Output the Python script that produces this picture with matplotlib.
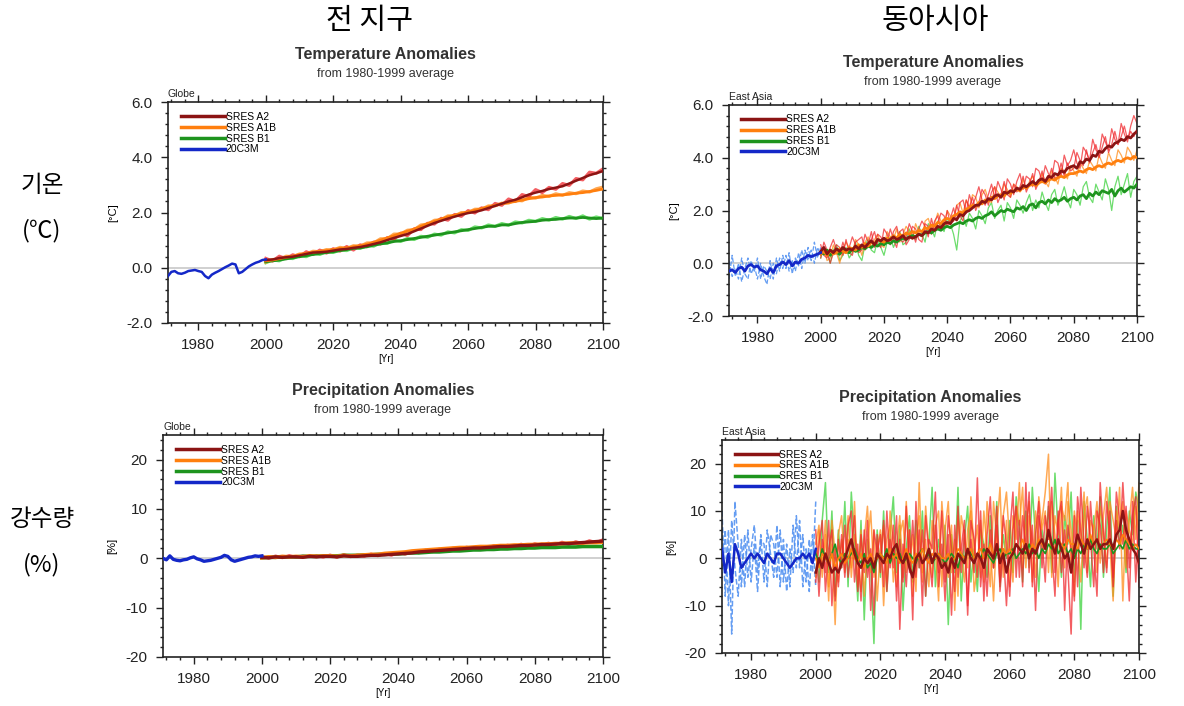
import matplotlib
matplotlib.use("Agg")
import matplotlib.pyplot as plt
from matplotlib.lines import Line2D
from matplotlib.ticker import MultipleLocator
import numpy as np

plt.rcParams['font.family'] = ['Liberation Sans', 'DejaVu Sans']

# ---------------- data ----------------
hist_years = np.arange(1971, 2001)
scen_years = np.arange(2000, 2101)        # yearly (East Asia)
scen_years2 = np.arange(2000, 2101, 2)    # every 2 years (Globe)

scenarios = ["SRES A2", "SRES A1B", "SRES B1", "20C3M"]

# Globe temperature [C]
gl_t_hist = [-0.30, -0.15, -0.12, -0.20, -0.22, -0.18, -0.12, -0.10, -0.08, -0.12,
             -0.15, -0.30, -0.38, -0.25, -0.18, -0.12, -0.05, 0.02, 0.08, 0.15,
             0.12, -0.20, -0.15, -0.05, 0.05, 0.12, 0.18, 0.22, 0.28, 0.30]
gl_t_a2 = [0.28, 0.30, 0.35, 0.38, 0.40, 0.45, 0.50, 0.55, 0.56, 0.58,
           0.62, 0.66, 0.68, 0.72, 0.75, 0.80, 0.86, 0.92, 1.00, 1.08,
           1.15, 1.22, 1.32, 1.42, 1.52, 1.62, 1.70, 1.78, 1.85, 1.92,
           1.98, 2.02, 2.08, 2.16, 2.24, 2.32, 2.40, 2.46, 2.55, 2.65,
           2.72, 2.78, 2.85, 2.90, 2.95, 3.05, 3.15, 3.25, 3.35, 3.42, 3.50]
gl_t_a1b = [0.25, 0.28, 0.33, 0.38, 0.42, 0.48, 0.52, 0.56, 0.60, 0.62,
            0.66, 0.70, 0.72, 0.76, 0.80, 0.85, 0.92, 1.00, 1.08, 1.16,
            1.25, 1.32, 1.40, 1.50, 1.60, 1.68, 1.76, 1.84, 1.90, 1.96,
            2.02, 2.08, 2.14, 2.20, 2.26, 2.32, 2.36, 2.40, 2.45, 2.50,
            2.54, 2.56, 2.60, 2.62, 2.64, 2.66, 2.70, 2.72, 2.76, 2.80, 2.85]
gl_t_b1 = [0.22, 0.25, 0.28, 0.32, 0.36, 0.40, 0.44, 0.48, 0.52, 0.55,
           0.58, 0.62, 0.66, 0.70, 0.72, 0.76, 0.82, 0.86, 0.90, 0.95,
           0.98, 1.02, 1.06, 1.10, 1.14, 1.18, 1.22, 1.26, 1.30, 1.34,
           1.38, 1.42, 1.46, 1.50, 1.50, 1.55, 1.55, 1.60, 1.64, 1.66,
           1.68, 1.72, 1.74, 1.75, 1.78, 1.80, 1.80, 1.82, 1.80, 1.78, 1.80]
gl_t_a2_m = [0.34, 0.24, 0.42, 0.33, 0.47, 0.40, 0.58, 0.48, 0.64, 0.53,
             0.69, 0.60, 0.77, 0.64, 0.83, 0.76, 0.93, 0.86, 1.09, 1.03,
             1.25, 1.16, 1.41, 1.38, 1.61, 1.58, 1.79, 1.72, 1.93, 1.86,
             2.07, 1.98, 2.17, 2.10, 2.33, 2.26, 2.49, 2.40, 2.65, 2.58,
             2.83, 2.72, 2.91, 2.84, 3.05, 2.98, 3.23, 3.18, 3.46, 3.42, 3.58]
gl_t_a1b_m = [0.20, 0.30, 0.30, 0.42, 0.40, 0.50, 0.50, 0.60, 0.58, 0.66,
              0.64, 0.74, 0.70, 0.80, 0.78, 0.90, 0.90, 1.05, 1.05, 1.22,
              1.22, 1.36, 1.38, 1.55, 1.58, 1.72, 1.74, 1.88, 1.88, 2.00,
              2.00, 2.12, 2.12, 2.24, 2.24, 2.34, 2.34, 2.45, 2.42, 2.55,
              2.52, 2.62, 2.58, 2.68, 2.62, 2.72, 2.68, 2.78, 2.74, 2.86, 2.92]
gl_t_b1_m = [0.18, 0.28, 0.25, 0.36, 0.33, 0.44, 0.40, 0.52, 0.48, 0.58,
             0.55, 0.64, 0.62, 0.72, 0.70, 0.80, 0.78, 0.90, 0.88, 1.00,
             0.95, 1.06, 1.02, 1.14, 1.10, 1.22, 1.18, 1.30, 1.26, 1.38,
             1.35, 1.48, 1.44, 1.55, 1.50, 1.60, 1.54, 1.66, 1.62, 1.72,
             1.68, 1.78, 1.72, 1.82, 1.76, 1.86, 1.78, 1.88, 1.76, 1.84, 1.78]

# Globe precipitation [%]
gl_p_hist = [0.0, -0.3, 0.5, -0.2, -0.4, -0.5, -0.3, -0.2, 0.1, 0.3,
             -0.1, -0.3, -0.6, -0.5, -0.4, -0.2, 0.0, 0.2, 0.6, 0.4,
             -0.3, -0.6, -0.4, -0.2, 0.0, 0.2, 0.3, 0.5, 0.4, 0.5]
gl_p_a2 = [0.2, 0.1, 0.3, 0.2, 0.3, 0.3, 0.2, 0.4, 0.3, 0.4,
           0.4, 0.3, 0.5, 0.4, 0.4, 0.5, 0.6, 0.6, 0.7, 0.8,
           0.9, 1.0, 1.1, 1.3, 1.4, 1.5, 1.6, 1.7, 1.8, 1.9,
           2.0, 2.1, 2.1, 2.2, 2.3, 2.4, 2.4, 2.5, 2.6, 2.6,
           2.7, 2.8, 2.8, 2.9, 3.0, 3.0, 3.1, 3.2, 3.3, 3.4, 3.5]
gl_p_a1b = [0.1, 0.3, 0.2, 0.4, 0.3, 0.4, 0.3, 0.5, 0.4, 0.5,
            0.5, 0.4, 0.6, 0.5, 0.6, 0.7, 0.8, 0.8, 1.0, 1.1,
            1.2, 1.3, 1.5, 1.6, 1.7, 1.8, 1.9, 2.0, 2.1, 2.2,
            2.2, 2.3, 2.4, 2.4, 2.5, 2.6, 2.6, 2.7, 2.7, 2.8,
            2.8, 2.9, 2.9, 3.0, 3.0, 3.1, 3.1, 3.1, 3.2, 3.2, 3.3]
gl_p_b1 = [0.1, 0.2, 0.2, 0.3, 0.3, 0.3, 0.4, 0.4, 0.4, 0.5,
           0.5, 0.5, 0.6, 0.6, 0.6, 0.7, 0.7, 0.8, 0.8, 0.9,
           0.9, 1.0, 1.1, 1.1, 1.2, 1.3, 1.3, 1.4, 1.5, 1.5,
           1.6, 1.7, 1.7, 1.8, 1.8, 1.9, 1.9, 2.0, 2.0, 2.1,
           2.1, 2.2, 2.2, 2.2, 2.3, 2.3, 2.3, 2.4, 2.4, 2.4, 2.4]
gl_p_a2_m = [0.4, 0.0, 0.5, 0.1, 0.6, 0.2, 0.5, 0.3, 0.6, 0.2,
             0.7, 0.2, 0.8, 0.3, 0.7, 0.4, 0.9, 0.5, 1.0, 0.6,
             1.2, 0.8, 1.4, 1.1, 1.7, 1.3, 1.9, 1.5, 2.1, 1.7,
             2.3, 1.9, 2.4, 2.0, 2.6, 2.2, 2.7, 2.3, 2.9, 2.4,
             3.0, 2.6, 3.1, 2.7, 3.3, 2.8, 3.4, 3.0, 3.6, 3.2, 3.8]

# East Asia temperature [C]
ea_t_hist = [-0.30, -0.25, -0.35, -0.20, -0.15, -0.30, -0.10, -0.05, -0.15, -0.10,
             -0.25, -0.30, -0.40, -0.20, -0.35, -0.10, -0.05, 0.05, -0.05, 0.10,
             -0.10, 0.05, 0.00, 0.15, 0.20, 0.30, 0.25, 0.30, 0.35, 0.40]
ea_t_hist_m1 = [-0.6, 0.3, -0.5, 0.0, -0.7, -0.2, 0.2, -0.4, -0.1, -0.6,
                0.0, -0.5, -0.8, 0.1, -0.6, 0.2, -0.3, 0.3, -0.2, 0.4,
                -0.4, 0.2, -0.1, 0.5, 0.0, 0.6, 0.1, 0.8, 0.2, 0.6]
ea_t_hist_m2 = [0.1, -0.5, -0.2, -0.6, 0.2, -0.4, -0.6, 0.1, -0.3, 0.2,
                -0.6, -0.1, -0.3, -0.6, 0.0, -0.4, 0.2, -0.2, 0.3, -0.3,
                0.1, -0.3, 0.4, -0.2, 0.5, 0.1, 0.5, 0.0, 0.6, 0.3]
ea_t_a2 = [0.45, 0.60, 0.35, 0.50, 0.40, 0.55, 0.45, 0.60, 0.50, 0.55,
           0.50, 0.65, 0.55, 0.70, 0.60, 0.75, 0.85, 0.70, 0.90, 0.85,
           0.95, 0.85, 0.90, 1.00, 0.90, 0.95, 1.05, 0.90, 1.00, 0.95,
           1.00, 1.10, 1.05, 1.20, 1.15, 1.30, 1.25, 1.40, 1.35, 1.50,
           1.55, 1.50, 1.70, 1.65, 1.85, 1.80, 1.95, 2.00, 2.10, 2.20,
           2.20, 2.35, 2.30, 2.45, 2.40, 2.55, 2.60, 2.50, 2.70, 2.65,
           2.75, 2.70, 2.85, 2.80, 2.95, 2.90, 3.00, 3.10, 3.00, 3.15,
           3.20, 3.10, 3.30, 3.25, 3.40, 3.35, 3.50, 3.45, 3.60, 3.65,
           3.70, 3.60, 3.85, 3.80, 3.95, 3.90, 4.10, 4.05, 4.25, 4.20,
           4.35, 4.45, 4.40, 4.55, 4.60, 4.70, 4.65, 4.80, 4.75, 4.90, 5.00]
ea_t_a1b = [0.35, 0.45, 0.30, 0.50, 0.35, 0.40, 0.55, 0.45, 0.40, 0.60,
            0.55, 0.50, 0.70, 0.60, 0.75, 0.65, 0.80, 0.75, 0.90, 0.85,
            0.80, 0.95, 0.90, 1.05, 0.95, 1.10, 1.00, 1.15, 1.10, 1.20,
            1.15, 1.25, 1.20, 1.35, 1.30, 1.45, 1.40, 1.55, 1.50, 1.65,
            1.70, 1.65, 1.80, 1.85, 1.95, 1.90, 2.05, 2.10, 2.20, 2.15,
            2.30, 2.25, 2.40, 2.35, 2.50, 2.45, 2.55, 2.60, 2.55, 2.70,
            2.65, 2.75, 2.80, 2.75, 2.90, 2.85, 2.95, 3.00, 2.95, 3.05,
            3.10, 3.05, 3.15, 3.20, 3.15, 3.25, 3.30, 3.25, 3.35, 3.40,
            3.40, 3.45, 3.50, 3.45, 3.55, 3.60, 3.55, 3.65, 3.70, 3.65,
            3.75, 3.80, 3.75, 3.85, 3.90, 3.85, 3.95, 4.00, 3.95, 4.05, 4.00]
ea_t_b1 = [0.40, 0.35, 0.50, 0.30, 0.45, 0.40, 0.35, 0.50, 0.45, 0.40,
           0.55, 0.45, 0.50, 0.60, 0.55, 0.65, 0.60, 0.70, 0.65, 0.75,
           0.70, 0.80, 0.75, 0.85, 0.80, 0.90, 0.95, 0.90, 1.00, 1.05,
           1.00, 1.10, 1.05, 1.15, 1.20, 1.15, 1.25, 1.30, 1.25, 1.35,
           1.40, 1.35, 1.45, 1.50, 1.55, 1.50, 1.60, 1.65, 1.60, 1.70,
           1.75, 1.70, 1.80, 1.85, 1.95, 1.80, 1.90, 2.00, 1.95, 2.05,
           2.00, 1.95, 2.10, 2.05, 2.15, 2.00, 2.20, 2.25, 2.10, 2.30,
           2.35, 2.25, 2.40, 2.30, 2.45, 2.35, 2.40, 2.50, 2.35, 2.45,
           2.50, 2.40, 2.55, 2.60, 2.45, 2.65, 2.55, 2.70, 2.60, 2.75,
           2.70, 2.65, 2.80, 2.55, 2.75, 2.85, 2.70, 2.80, 2.90, 2.85, 3.00]
ea_t_a2_m1 = [0.7, 0.3, 0.2, 0.6, 0.9, 0.5, 0.3, 0.8, 0.4, 0.6,
              1.0, 0.7, 0.4, 0.5, 1.1, 0.8, 0.9, 1.2, 0.7, 0.6,
              1.3, 1.1, 0.7, 1.2, 1.4, 0.9, 0.8, 1.0, 1.5, 1.2,
              0.8, 1.3, 1.6, 1.4, 1.0, 1.7, 1.2, 1.5, 1.9, 1.8,
              1.4, 1.7, 2.1, 1.6, 2.3, 2.4, 1.9, 2.6, 2.2, 2.5,
              2.9, 2.4, 2.2, 2.6, 3.0, 2.5, 3.1, 2.8, 2.4, 3.2,
              3.0, 2.6, 3.1, 3.4, 2.8, 3.3, 3.2, 2.9, 3.6, 3.5,
              3.1, 3.7, 3.4, 3.2, 3.9, 3.8, 3.3, 4.1, 3.7, 3.9,
              4.3, 3.8, 3.6, 4.4, 4.2, 3.9, 4.7, 4.3, 4.1, 4.9,
              4.6, 4.3, 5.1, 4.7, 4.5, 5.3, 4.9, 4.6, 5.2, 5.6, 5.3]
ea_t_a2_m2 = [0.2, 0.8, 0.5, 0.0, 0.4, 0.7, 0.6, 0.3, 0.9, 0.4,
              0.3, 0.8, 0.9, 1.0, 0.5, 0.7, 1.2, 0.6, 1.1, 1.0,
              0.7, 0.8, 1.3, 0.9, 0.6, 1.2, 1.3, 0.7, 0.9, 1.4,
              1.3, 0.9, 0.8, 1.5, 1.4, 1.1, 1.6, 1.8, 1.3, 1.4,
              2.0, 1.5, 1.6, 2.2, 1.8, 1.6, 2.4, 2.1, 2.5, 2.0,
              2.3, 2.8, 2.6, 2.2, 2.7, 2.9, 2.3, 2.6, 3.1, 2.6,
              2.5, 3.0, 2.7, 2.9, 3.3, 2.7, 3.0, 3.4, 2.8, 3.1,
              3.5, 3.0, 3.2, 3.6, 3.2, 3.3, 3.8, 3.3, 3.8, 3.5,
              3.6, 4.2, 3.9, 3.7, 4.3, 3.8, 4.2, 4.5, 4.0, 4.4,
              4.8, 4.2, 4.5, 5.0, 4.5, 4.8, 5.2, 4.7, 5.0, 4.8, 5.1]
ea_t_a1b_m1 = [0.3, 0.6, 0.1, 0.2, 0.7, 0.4, 0.0, 0.5, 0.8, 0.6,
               0.4, 0.9, 0.7, 0.3, 0.8, 1.0, 0.6, 0.9, 1.1, 0.7,
               0.6, 1.2, 1.0, 0.9, 1.3, 0.8, 1.1, 1.4, 1.2, 0.9,
               1.5, 1.2, 1.0, 1.6, 1.7, 1.3, 1.5, 1.9, 1.6, 1.4,
               2.0, 1.8, 1.6, 2.2, 2.3, 1.9, 2.4, 2.1, 2.6, 2.5,
               2.1, 2.6, 2.8, 2.4, 2.3, 2.9, 2.7, 2.5, 3.0, 2.8,
               2.5, 3.0, 2.9, 2.7, 3.2, 2.8, 3.1, 3.3, 2.9, 3.0,
               3.4, 3.1, 2.9, 3.5, 3.3, 3.0, 3.6, 3.5, 3.2, 3.7,
               3.5, 3.3, 3.8, 3.6, 3.4, 3.9, 3.7, 3.5, 4.1, 3.8,
               3.6, 4.2, 3.9, 3.7, 4.3, 4.1, 3.8, 4.4, 4.2, 3.9, 4.3]
ea_t_b1_m1 = [0.2, 0.6, 0.4, 0.0, 0.5, 0.7, 0.1, 0.3, 0.6, 0.2,
              0.4, 0.8, 0.3, 0.1, 0.7, 0.9, 0.5, 0.4, 0.9, 0.6,
              0.3, 0.8, 1.0, 0.6, 0.9, 1.2, 0.7, 0.8, 1.3, 1.0,
              0.9, 1.4, 1.1, 0.8, 1.5, 1.3, 1.0, 1.6, 1.4, 1.2,
              1.7, 1.5, 1.1, 0.5, 1.6, 1.8, 1.4, 1.9, 1.7, 1.3,
              2.0, 1.8, 1.5, 2.1, 2.3, 1.7, 2.0, 2.2, 1.6, 2.3,
              2.1, 1.7, 2.4, 2.2, 1.9, 2.3, 2.6, 2.0, 2.4, 2.1,
              2.7, 2.3, 2.0, 2.6, 2.8, 2.2, 2.5, 2.9, 2.4, 2.1,
              2.8, 2.6, 2.2, 2.9, 3.1, 2.5, 2.3, 3.0, 2.7, 2.4,
              3.2, 2.8, 2.0, 2.9, 3.3, 2.6, 3.0, 3.4, 2.5, 3.1, 3.3]

# East Asia precipitation [%]
ea_p_hist = [2, -3, 1, -5, 3, 1, -2, -1, 0, 1,
             0, 1, 0, -1, 1, 0, -1, 1, 1, 0,
             -1, -2, -1, 0, 0, 1, 0, 1, -1, 2]
ea_p_hist_m1 = [10, -8, 6, -16, 12, 3, -6, 5, -4, 2,
                7, -3, 5, -5, 6, 1, -4, 7, -6, 4,
                -7, 2, -3, 9, -2, 5, -5, 4, -3, 12]
ea_p_hist_m2 = [-4, 6, -10, 8, -2, -8, 4, -6, 6, -5,
                3, -7, 4, 3, -6, 5, 3, -4, 6, -5,
                3, -6, 7, -2, 8, -6, 2, -7, 5, -6]
ea_p_a2 = [-3, 0, -2, 1, -1, -3, -2, -3, -1, 0,
           2, 4, 1, -1, -2, 0, -1, 0, -2, 1,
           0, -1, 1, 0, 2, 3, 0, -1, 1, -2,
           -4, 0, 1, -1, 0, 2, -1, 1, 0, -2,
           -1, -3, 0, -2, 1, 0, -1, 2, 0, -1,
           1, 0, -2, 2, 1, 0, 3, -1, 1, -3,
           0, 1, 3, 2, 1, 3, 0, 2, 1, 3,
           4, 2, 6, 3, 1, 4, 2, 0, 1, -3,
           2, 5, 3, 1, 4, 2, 3, 4, 2, 3,
           3, 4, 2, 5, 6, 10, 6, 4, 2, 1, -1]
ea_p_a1b = [0, -2, 1, 0, -1, 1, -2, 0, 1, -1,
            0, 2, 0, -1, 1, -2, 0, 1, -1, 0,
            1, 0, -1, 2, 0, 1, -1, 0, 2, 0,
            -1, 1, 0, 2, 0, -1, 1, 0, 1, 0,
            0, 1, -1, 0, 2, 1, 0, 1, 2, 0,
            1, 2, 0, 1, 3, 1, 2, 0, 2, 1,
            2, 1, 3, 2, 4, 2, 1, 3, 2, 4,
            3, 2, 5, 3, 2, 4, 3, 2, 4, 3,
            3, 2, 4, 3, 2, 5, 3, 4, 2, 3,
            4, 3, 2, 4, 3, 5, 4, 3, 2, 3, 2]
ea_p_b1 = [1, -1, 2, 0, -1, 1, 3, 0, -1, 1,
           0, 1, 2, 0, -1, 1, -2, -1, -3, 0,
           1, 0, 2, -1, 1, 0, 1, -1, 0, 1,
           0, -1, 1, 2, 0, 1, -1, 0, 1, 0,
           -1, 0, 1, 0, -2, 1, 0, 2, 1, 0,
           1, 0, 2, 1, 0, -1, 1, 2, 0, 1,
           1, 2, 0, 1, 2, 1, 3, 1, 2, 0,
           2, 1, 3, 2, 4, 1, 2, 3, 1, 2,
           0, 2, 1, 3, 2, 4, 2, 1, 3, 2,
           2, 3, 1, 2, 3, 2, 4, 2, 3, 2, 2]
ea_p_a2_m1 = [6, -8, 4, -3, 8, -10, 2, -6, 5, -4,
              7, 10, -5, 3, -9, 6, -4, 2, -12, 5,
              -3, 8, -7, 4, -2, 9, -15, 3, -6, 6,
              -13, 12, -2, 6, -8, 4, 2, 14, -6, 3,
              -9, 5, -12, 7, -4, 2, 8, -10, 4, -3,
              17, -6, 3, -8, 6, -2, 11, -7, 2, -10,
              5, 14, -4, 8, -6, 16, -3, 7, -11, 9,
              4, -5, 12, 2, -8, 10, -3, 6, -2, -16,
              9, -6, 15, 3, -4, 12, 2, -8, 16, 5,
              -3, 10, -6, 8, 2, 16, 4, -9, 12, -5, 8]
ea_p_a2_m2 = [-5, 3, 8, -7, 2, 6, -9, 4, -2, 7,
              -4, 2, 9, -7, 5, -3, 8, -11, 6, 1,
              5, -6, 10, -2, 7, -9, 4, -5, 11, -3,
              8, -4, 6, -10, 9, 1, -6, 7, -3, 10,
              -5, 9, 2, -7, 11, -3, 6, -12, 8, 4,
              -4, 10, -9, 5, 13, -2, 7, -5, 9, 3,
              -8, 6, 11, -4, 9, 2, 14, -6, 5, 12,
              -2, 9, 4, 15, -3, 8, 12, -11, 7, 2,
              -9, 13, 6, -2, 11, 4, -6, 10, 7, -3,
              12, 5, -4, 14, 8, 3, 11, -2, 9, 13, -6]
ea_p_a1b_m1 = [-4, 6, -2, 8, -6, 3, -14, 5, 9, -3,
               4, -2, 12, -6, 6, -8, 3, 10, -4, 2,
               6, -10, 4, 7, -5, 2, 9, -4, 12, -2,
               5, -7, 16, -3, 4, -6, 8, 2, -9, 12,
               3, -4, 7, -11, 9, 1, -5, 6, 10, -7,
               -2, 8, -5, 12, 3, -9, 6, 15, -4, 8,
               -6, 9, 4, 16, -2, 7, 12, -5, 10, 3,
               8, 14, 22, -4, 9, 5, 15, -2, 12, 6,
               -8, 10, 4, 14, -3, 8, 6, 12, -1, 9,
               15, 3, -9, 10, 6, 12, -2, 8, 15, 4, 16]
ea_p_a1b_m2 = [3, 7, -4, 5, -9, 8, 1, -5, 4, -2,
               9, -4, 5, 1, -7, 4, 11, -3, 6, -9,
               2, 7, -5, 10, 3, -6, 5, 8, -3, 6,
               -8, 4, 9, -5, 11, 2, -4, 7, 10, -6,
               6, 12, -3, 4, -8, 9, 5, -2, 13, 1,
               7, -4, 10, 2, -6, 12, 4, -3, 9, 14,
               3, -5, 11, 7, 15, -2, 9, 4, -4, 13,
               6, 10, -3, 12, 5, -6, 11, 8, 16, -2,
               10, 4, -5, 9, 13, 2, 7, -3, 11, 6,
               -2, 12, 8, 4, 15, -9, 10, 6, 3, 11, 5]
ea_p_b1_m1 = [2, -5, 8, 16, -3, 10, -8, 6, -2, 12,
              -6, 14, 3, -9, 8, -13, 4, -2, -18, 6,
              -4, 10, -7, 5, 13, -3, 7, -11, 2, 9,
              -5, 8, -2, 10, -8, 3, 15, -6, 4, -1,
              7, -14, 5, -3, 15, -9, 4, 11, -5, 2,
              -7, 6, 3, -4, 9, -2, 12, -6, 5, 0,
              8, -3, 13, 6, -5, 10, -2, 15, 4, -7,
              6, 2, 11, -3, 18, 5, -4, 9, 3, 14,
              -5, 8, -15, 12, 4, -6, 9, 2, 13, -4,
              6, 15, -8, 11, 3, 7, -3, 10, 5, 14, 10]

# ---------------- style ----------------
mean_col = {"SRES A2": "#8B1414", "SRES A1B": "#FF7F0E", "SRES B1": "#1E941E", "20C3M": "#1428C8"}
memb_col = {"SRES A2": "#F0282D", "SRES A1B": "#FF8C1A", "SRES B1": "#3CD23C", "20C3M": "#4A8CF0"}

W, H = 1184, 706
fig = plt.figure(figsize=(W / 100, H / 100), dpi=100)


def fx(x):
    return x / W


def fy(y):
    return 1 - y / H


def panel(rect, title, title_y, region, ylim, yticks, yfmt, ylab,
          hist, hist_membs, syears, means, membs, mean_lw, other_lw,
          memb_lw, hist_ls, scen_ls):
    l, t, r, b = rect
    ax = fig.add_axes([fx(l), fy(b), fx(r - l), (b - t) / H])
    ax.axhline(0, color="#C8C8C8", lw=1.2, zorder=1)
    # thin ensemble members first
    for m in hist_membs:
        ax.plot(hist_years, m, color=memb_col["20C3M"], lw=memb_lw,
                ls=hist_ls, alpha=0.85, zorder=2)
    for name in ["SRES B1", "SRES A1B", "SRES A2"]:
        for m in membs.get(name, []):
            ax.plot(syears, m, color=memb_col[name], lw=memb_lw,
                    ls=scen_ls, alpha=0.75, zorder=2)
    ax.plot(syears, means["SRES B1"], color=mean_col["SRES B1"], lw=other_lw, zorder=3)
    ax.plot(syears, means["SRES A1B"], color=mean_col["SRES A1B"], lw=other_lw, zorder=3)
    ax.plot(syears, means["SRES A2"], color=mean_col["SRES A2"], lw=mean_lw, zorder=3)
    ax.plot(hist_years, hist, color=mean_col["20C3M"], lw=mean_lw, zorder=3)

    ax.set_xlim(1971, 2100)
    ax.set_ylim(*ylim)
    ax.set_xticks([1980, 2000, 2020, 2040, 2060, 2080, 2100])
    ax.xaxis.set_minor_locator(MultipleLocator(4))
    ax.set_yticks(yticks)
    ax.set_yticklabels([yfmt % v for v in yticks])
    ax.yaxis.set_minor_locator(MultipleLocator((yticks[1] - yticks[0]) / 5))
    ax.tick_params(which="both", direction="out", top=True, right=True,
                   labelsize=11, colors="#222222", width=1)
    ax.tick_params(which="major", length=5, pad=6)
    ax.tick_params(which="minor", length=2.5)
    for s in ax.spines.values():
        s.set_linewidth(1.2)
        s.set_color("#222222")
    ax.set_xlabel("[Yr]", fontsize=7, labelpad=1)
    ax.set_ylabel(ylab, fontsize=8, labelpad=6)
    ax.text(0.0, 1.015, region, transform=ax.transAxes, fontsize=7.5,
            ha="left", va="bottom", color="#222222")
    cx = (l + r) / 2
    fig.text(fx(cx), fy(title_y), title, fontsize=11.5, fontweight="bold",
             ha="center", va="center", color="#333333")
    fig.text(fx(cx), fy(title_y + 19), "from 1980-1999 average", fontsize=9,
             ha="center", va="center", color="#333333")
    handles = [Line2D([], [], color=mean_col[n], lw=2.5) for n in scenarios]
    ax.legend(handles, scenarios, loc="upper left", bbox_to_anchor=(0.03, 0.955),
              fontsize=7.5, frameon=False, handlelength=4.2, handletextpad=0.1,
              labelspacing=0.08, borderpad=0, borderaxespad=0)
    return ax


panel((168, 102, 603, 323), "Temperature Anomalies", 55, "Globe",
      (-2, 6), [-2, 0, 2, 4, 6], "%.1f", "[°C]",
      gl_t_hist, [], scen_years2,
      {"SRES A2": gl_t_a2, "SRES A1B": gl_t_a1b, "SRES B1": gl_t_b1},
      {"SRES A2": [gl_t_a2_m], "SRES A1B": [gl_t_a1b_m], "SRES B1": [gl_t_b1_m]},
      1.8, 2.0, 2.2, "-", "-")

panel((729, 105, 1137, 316), "Temperature Anomalies", 63, "East Asia",
      (-2, 6), [-2, 0, 2, 4, 6], "%.1f", "[°C]",
      ea_t_hist, [ea_t_hist_m1, ea_t_hist_m2], scen_years,
      {"SRES A2": ea_t_a2, "SRES A1B": ea_t_a1b, "SRES B1": ea_t_b1},
      {"SRES A2": [ea_t_a2_m1, ea_t_a2_m2], "SRES A1B": [ea_t_a1b_m1],
       "SRES B1": [ea_t_b1_m1]},
      2.0, 2.0, 0.9, "--", "-")

panel((163, 435, 603, 657), "Precipitation Anomalies", 391, "Globe",
      (-20, 25), [-20, -10, 0, 10, 20], "%d", "[%]",
      gl_p_hist, [], scen_years2,
      {"SRES A2": gl_p_a2, "SRES A1B": gl_p_a1b, "SRES B1": gl_p_b1},
      {"SRES A2": [gl_p_a2_m]}, 2.4, 2.6, 2.0, "-", "-")

panel((722, 440, 1139, 653), "Precipitation Anomalies", 398, "East Asia",
      (-20, 25), [-20, -10, 0, 10, 20], "%d", "[%]",
      ea_p_hist, [ea_p_hist_m1, ea_p_hist_m2], scen_years,
      {"SRES A2": ea_p_a2, "SRES A1B": ea_p_a1b, "SRES B1": ea_p_b1},
      {"SRES A2": [ea_p_a2_m1, ea_p_a2_m2], "SRES A1B": [ea_p_a1b_m1, ea_p_a1b_m2],
       "SRES B1": [ea_p_b1_m1]},
      1.8, 1.2, 1.1, "--", "-")

# Korean headers
kr = ['Noto Sans CJK KR', 'DejaVu Sans']
fig.text(fx(370), fy(21), "전 지구", family=kr, fontsize=21, ha="center", va="center")
fig.text(fx(935), fy(21), "동아시아", family=kr, fontsize=21, ha="center", va="center")
fig.text(fx(42), fy(186), "기온", family=kr, fontsize=17, ha="center", va="center")
fig.text(fx(42), fy(231), "(℃)", family=kr, fontsize=17, ha="center", va="center")
fig.text(fx(42), fy(520), "강수량", family=kr, fontsize=17, ha="center", va="center")
fig.text(fx(42), fy(565), "(%)", family=kr, fontsize=17, ha="center", va="center")

fig.savefig("out.png", dpi=100)
